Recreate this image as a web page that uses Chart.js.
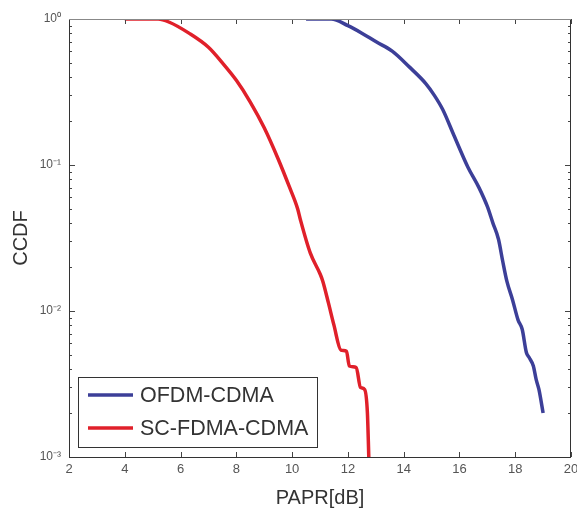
<!DOCTYPE html>
<html>
<head>
<meta charset="utf-8">
<script src="https://cdn.jsdelivr.net/npm/chart.js@4/dist/chart.umd.min.js"></script>
<style>
  html, body { margin: 0; padding: 0; background: #fff; }
  #wrap { width: 577px; height: 510px; }
</style>
</head>
<body>
<div id="wrap"><canvas id="myChart" width="577" height="510"></canvas></div>
<script>
'use strict';

// values
const papr_ofdm = [10.5, 11.4, 12.0, 12.5, 13.0, 13.6, 14.2, 14.8, 15.1, 15.4, 15.8, 16.3, 16.7, 17.0, 17.2, 17.4, 17.55, 17.7, 17.9, 18.1, 18.25, 18.4, 18.5, 18.65, 18.75, 18.85, 19.0];
const ccdf_ofdm = [1, 1, 0.9, 0.8, 0.7, 0.6, 0.47, 0.36, 0.30, 0.24, 0.16, 0.097, 0.07, 0.052, 0.04, 0.031, 0.022, 0.016, 0.012, 0.0087, 0.0075, 0.0052, 0.0048, 0.0042, 0.0034, 0.0029, 0.002];

const papr_sc = [4.0, 5.2, 5.6, 6.3, 7.0, 7.5, 8.0, 8.5, 9.0, 9.5, 9.9, 10.2, 10.3, 10.65, 11.0, 11.1, 11.3, 11.5, 11.75, 11.95, 12.05, 12.3, 12.45, 12.6, 12.7, 12.75];
const ccdf_sc = [1, 1, 0.95, 0.8, 0.64, 0.5, 0.38, 0.27, 0.18, 0.11, 0.071, 0.05, 0.042, 0.025, 0.018, 0.016, 0.0114, 0.008, 0.0054, 0.0053, 0.0042, 0.0041, 0.003, 0.0029, 0.002, 0.001];

const seriesNames = ['OFDM-CDMA', 'SC-FDMA-CDMA'];
const seriesColors = ['#3c3f98', '#e0202a'];

const yMajor = [0.001, 0.01, 0.1, 1];
const yMajorLabels = ['10\u207B\u00B3', '10\u207B\u00B2', '10\u207B\u00B9', '10\u2070'];
const xTicks = [2, 4, 6, 8, 10, 12, 14, 16, 18, 20];

function pts(xs, ys) {
    return xs.map((x, i) => ({ x: x, y: ys[i] }));
}

// MATLAB style box with inward ticks + legend in lower left
const matlabBox = {
    id: 'matlabBox',
    afterDraw(chart) {
        const c = chart.ctx;
        const a = chart.chartArea;
        const xs = chart.scales.x, ys = chart.scales.y;
        c.save();
        c.lineWidth = 1;
        c.strokeStyle = '#444';
        c.beginPath();
        // x ticks bottom and top
        xTicks.forEach(v => {
            const px = Math.round(xs.getPixelForValue(v)) + 0.5;
            c.moveTo(px, a.bottom); c.lineTo(px, a.bottom - 5);
            c.moveTo(px, a.top); c.lineTo(px, a.top + 5);
        });
        // y ticks left and right
        ys.ticks.forEach(t => {
            const py = Math.round(ys.getPixelForValue(t.value)) + 0.5;
            const len = yMajor.includes(t.value) ? 6 : 3;
            c.moveTo(a.left, py); c.lineTo(a.left + len, py);
            c.moveTo(a.right, py); c.lineTo(a.right - len, py);
        });
        c.stroke();
        c.strokeStyle = '#333';
        c.beginPath();
        c.moveTo(a.left + 0.5, a.top); c.lineTo(a.left + 0.5, a.bottom + 0.5);
        c.lineTo(a.right - 0.5, a.bottom + 0.5); c.lineTo(a.right - 0.5, a.top);
        c.stroke();
        c.strokeStyle = '#888';
        c.beginPath();
        c.moveTo(a.left, a.top + 0.5); c.lineTo(a.right, a.top + 0.5);
        c.stroke();

        // legend
        const bx = 78, by = 377, bw = 239, bh = 70;
        c.fillStyle = '#fff';
        c.fillRect(bx, by, bw, bh);
        c.strokeStyle = '#333';
        c.strokeRect(bx + 0.5, by + 0.5, bw, bh);
        c.font = '21.5px "Liberation Sans", Arial, sans-serif';
        c.textBaseline = 'middle';
        chart.data.datasets.forEach((ds, i) => {
            const ly = by + 18 + i * 33;
            c.strokeStyle = ds.borderColor;
            c.lineWidth = 3.5;
            c.beginPath();
            c.moveTo(bx + 10, ly); c.lineTo(bx + 55, ly);
            c.stroke();
            c.fillStyle = '#333';
            c.fillText(ds.label, bx + 62, ly + 1);
        });
        c.restore();
    }
};

const ctx = document.getElementById('myChart').getContext('2d');

const myChart = new Chart(ctx, {
    type: 'line',
    data: {
        datasets: [{
            label: seriesNames[0],
            data: pts(papr_ofdm, ccdf_ofdm),
            borderColor: seriesColors[0],
            borderWidth: 3.5,
            pointRadius: 0,
            cubicInterpolationMode: 'monotone'
        }, {
            label: seriesNames[1],
            data: pts(papr_sc, ccdf_sc),
            borderColor: seriesColors[1],
            borderWidth: 3.5,
            pointRadius: 0,
            cubicInterpolationMode: 'monotone'
        }]
    },
    plugins: [matlabBox],
    options: {
        responsive: false,
        animation: false,
        layout: {
            padding: { left: 0, right: 6, top: 19, bottom: 0 }
        },
        plugins: {
            legend: { display: false },
            tooltip: { enabled: false }
        },
        scales: {
            x: {
                type: 'linear',
                min: 2,
                max: 20,
                afterBuildTicks: function (scale) {
                    scale.ticks = xTicks.map(v => ({ value: v }));
                },
                afterFit: function (scale) {
                    scale.height = 53;
                    scale.paddingLeft = 0;
                    scale.paddingRight = 0;
                },
                ticks: {
                    padding: 5,
                    color: '#555',
                    font: { family: '"Liberation Sans", Arial, sans-serif', size: 13 },
                    maxRotation: 0,
                    autoSkip: false
                },
                grid: { display: false, drawTicks: false },
                border: { display: false },
                title: {
                    display: true,
                    text: 'PAPR[dB]',
                    color: '#333',
                    font: { family: '"Liberation Sans", Arial, sans-serif', size: 20 },
                    padding: { top: 0, bottom: 0 }
                }
            },
            y: {
                type: 'logarithmic',
                min: 0.001,
                max: 1,
                afterBuildTicks: function (scale) {
                    const t = [];
                    yMajor.forEach((m, i) => {
                        t.push({ value: m });
                        if (i < yMajor.length - 1) {
                            for (let k = 2; k <= 9; k++) t.push({ value: +(m * k).toPrecision(3) });
                        }
                    });
                    scale.ticks = t;
                },
                afterFit: function (scale) { scale.width = 69; },
                ticks: {
                    padding: 8,
                    color: '#555',
                    font: { family: '"Liberation Sans", Arial, sans-serif', size: 12 },
                    autoSkip: false,
                    callback: function (val) {
                        const i = yMajor.indexOf(val);
                        return i >= 0 ? yMajorLabels[i] : '';
                    }
                },
                grid: { display: false, drawTicks: false },
                border: { display: false },
                title: {
                    display: true,
                    text: 'CCDF',
                    color: '#333',
                    font: { family: '"Liberation Sans", Arial, sans-serif', size: 20 },
                    padding: { top: 9, bottom: 0 }
                }
            }
        }
    }
});
</script>
</body>
</html>
